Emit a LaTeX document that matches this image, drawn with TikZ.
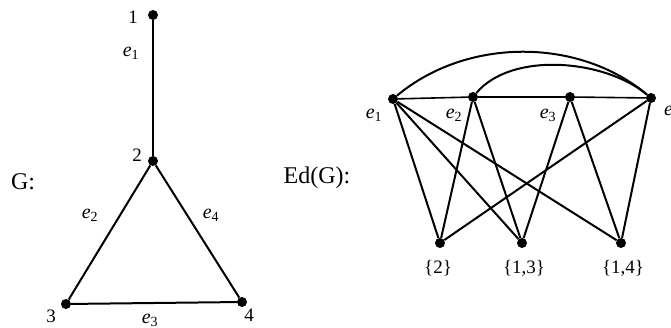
\documentclass[tikz,border=0pt]{standalone}
\usepackage{fontspec}
\setmainfont{Liberation Serif}
\begin{document}
\begin{tikzpicture}[x=1pt,y=-1pt,
  dot/.style={circle,fill=black,inner sep=0pt,minimum size=10pt},
  edge/.style={line width=2pt},
  thinedge/.style={line width=1.6pt},
  lbl/.style={font=\fontsize{19}{19}\selectfont,inner sep=0pt},
  elbl/.style={font=\fontsize{20}{20}\selectfont,inner sep=0pt},
  big/.style={font=\fontsize{24}{24}\selectfont,inner sep=0pt}]
\useasboundingbox (0,0) rectangle (671,328);
% graph G
\node[dot] (v1) at (153,15) {};
\node[dot] (v2) at (153,161) {};
\node[dot] (v3) at (66,304) {};
\node[dot] (v4) at (242,302) {};
\draw[thinedge] (v1) -- (v2);
\draw[edge] (v2) -- (v3);
\draw[edge] (v2) -- (v4);
\draw[edge] (v3) -- (v4);
\node[lbl] (l1) at (133,17) {1};
\node[lbl] (l2) at (137,155) {2};
\node[lbl] (l3) at (51,316) {3};
\node[lbl] (l4) at (249,315) {4};
\node[elbl] (le1) at (131,53) {\textit{e}\textsubscript{1}};
\node[elbl] (le2) at (90,215) {\textit{e}\textsubscript{2}};
\node[elbl] (le4) at (211,215) {\textit{e}\textsubscript{4}};
\node[elbl] (le3) at (150,320) {\textit{e}\textsubscript{3}};
\node[big] (gl) at (23,182) {G:};
% Ed(G)
\node[big] (edl) at (317,178) {Ed(G):};
\node[dot] (a1) at (393,99) {};
\node[dot] (a2) at (473,97) {};
\node[dot] (a3) at (570,97) {};
\node[dot] (a4) at (651,98) {};
\node[dot] (b1) at (440,243) {};
\node[dot] (b2) at (522,243) {};
\node[dot] (b3) at (621,243) {};
\draw[thinedge] (a1) -- (a2);
\draw[thinedge] (a2) -- (a3);
\draw[thinedge] (a3) -- (a4);
\draw[edge] (a1) to[out=40,in=140,looseness=0.92] (a4);
\draw[edge] (a2) to[out=50,in=140,looseness=0.82] (a4);
\draw[edge] (a1) -- (b1);
\draw[edge] (a1) -- (b2);
\draw[edge] (a1) -- (b3);
\draw[edge] (a2) -- (b1);
\draw[edge] (a2) -- (b2);
\draw[edge] (a3) -- (b2);
\draw[edge] (a3) -- (b3);
\draw[edge] (a4) -- (b1);
\draw[edge] (a4) -- (b3);
\node[elbl] (la1) at (374,115) {\textit{e}\textsubscript{1}};
\node[elbl] (la2) at (454,115) {\textit{e}\textsubscript{2}};
\node[elbl] (la3) at (548,115) {\textit{e}\textsubscript{3}};
\node[elbl,anchor=west] (la4) at (664,112) {\textit{e}\textsubscript{4}};
\node[lbl] (lb1) at (438,268) {\{2\}};
\node[lbl] (lb2) at (524,268) {\{1,3\}};
\node[lbl] (lb3) at (623,268) {\{1,4\}};
\end{tikzpicture}
\end{document}
